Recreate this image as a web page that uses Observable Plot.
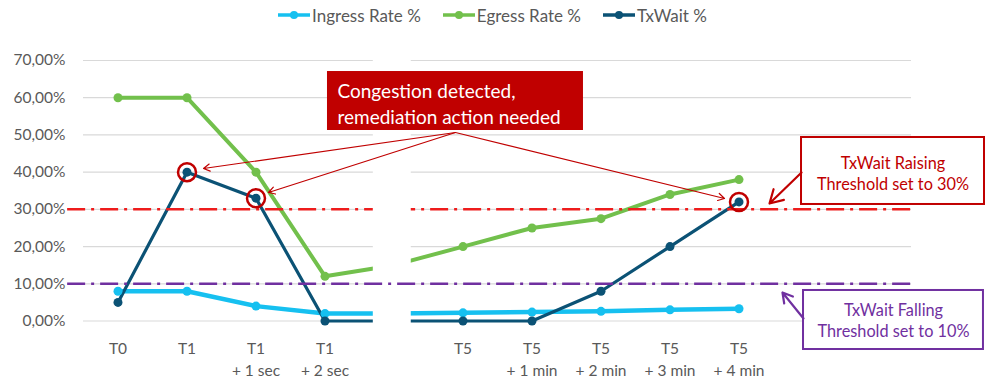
<!DOCTYPE html>
<html>
<head>
<meta charset="utf-8">
<script src="https://cdn.jsdelivr.net/npm/d3@7"></script>
<script src="https://cdn.jsdelivr.net/npm/@observablehq/plot@0.6"></script>
<style>
  body { margin: 0; background: #fff; font-family: Lato, "Open Sans", sans-serif; }
  #legend { height: 30px; display: flex; justify-content: center; align-items: center; gap: 22px; color: #595959; font-size: 17px; }
  .item { display: flex; align-items: center; }
  .item span { margin-left: 2px; }
  #chart svg { display: block; }
</style>
</head>
<body>
<div id="legend"></div>
<div id="chart"></div>
<script>
// ---- data ----
const categories = ["T0", "T1", "T1\n+ 1 sec", "T1\n+ 2 sec", "", "T5", "T5\n+ 1 min", "T5\n+ 2 min", "T5\n+ 3 min", "T5\n+ 4 min", "", ""];
const hiddenIndex = 4;
const ingress = [8, 8, 4, 2, 2, 2.2, 2.4, 2.6, 3.0, 3.3];
const egress = [60, 60, 40, 12, 15, 20, 25, 27.5, 34, 38];
const txwait = [5, 40, 33, 0, 0, 0, 0, 8, 20, 32];
const seriesNames = ["Ingress Rate %", "Egress Rate %", "TxWait %"];
const seriesColors = ["#16c0f0", "#72c04c", "#0b5275"];
const yTicks = [0, 10, 20, 30, 40, 50, 60, 70];
const raisingThreshold = 30;
const fallingThreshold = 10;
const congestedPoints = [[1, 40], [2, 33], [9, 32]];

// ---- build ----
const seriesValues = [ingress, egress, txwait];
const rows = [];
seriesValues.forEach((vals, s) => vals.forEach((v, i) => rows.push({ series: seriesNames[s], i, v })));
const visibleRows = rows.filter(d => d.i !== hiddenIndex);
const xTickIdx = categories.map((c, i) => i).filter(i => categories[i] !== "");
const fmt = d => d.toFixed(2).replace(".", ",") + "%";
const widths = { "Ingress Rate %": 4.5, "Egress Rate %": 4, "TxWait %": 3.2 };

// legend
const legend = d3.select("#legend");
seriesNames.forEach((n, k) => {
  const it = legend.append("div").attr("class", "item");
  const s = it.append("svg").attr("width", 32).attr("height", 12);
  s.append("line").attr("x1", 0).attr("x2", 32).attr("y1", 6).attr("y2", 6)
    .attr("stroke", seriesColors[k]).attr("stroke-width", 3.5);
  s.append("circle").attr("cx", 16).attr("cy", 6).attr("r", 4).attr("fill", seriesColors[k]);
  it.append("span").text(n);
});

const red = "#c00000", thrRed = "#ee1c1c", purple = "#7030a0";
const one = [0];

const plot = Plot.plot({
  width: 985, height: 353,
  marginLeft: 83, marginRight: 74, marginTop: 30, marginBottom: 62.5,
  x: { domain: [-0.5, 11.5], axis: null },
  y: { domain: [0, 70], axis: null },
  color: { domain: seriesNames, range: seriesColors },
  style: { fontFamily: "Lato, 'Open Sans', sans-serif", background: "#fff", overflow: "visible" },
  marks: [
    Plot.ruleY(yTicks, { x1: -0.5, x2: 11.5, stroke: "#d9d9d9", strokeWidth: 1.2 }),
    Plot.text(yTicks, { x: -0.5, y: d => d, text: fmt, textAnchor: "end", dx: -18, fontSize: 15.5, fill: "#595959" }),
    Plot.text(xTickIdx, { x: d => d, y: 0, text: d => categories[d], dy: 17, lineAnchor: "top", lineHeight: 1.42, fontSize: 15.5, fill: "#595959" }),
    ...seriesNames.map(n => Plot.line(rows.filter(d => d.series === n), { x: "i", y: "v", stroke: "series", strokeWidth: widths[n] })),
    Plot.dot(visibleRows, { x: "i", y: "v", fill: "series", r: 4.5 }),
    Plot.ruleY([raisingThreshold], { x1: -0.73, x2: 11.56, stroke: thrRed, strokeWidth: 2.5, strokeDasharray: "18,6,3,6" }),
    Plot.rect(one, { x1: 3.7, x2: 4.25, y1: -1.3, y2: 72, fill: "#fff" }),
    Plot.ruleY([fallingThreshold], { x1: -0.73, x2: 11.56, stroke: purple, strokeWidth: 2.5, strokeDasharray: "18,6,3,6" }),
    Plot.dot(congestedPoints, { x: d => d[0], y: d => d[1], r: 9, stroke: red, strokeWidth: 2.5, fill: "none" }),
    // congestion callout
    Plot.rect(one, { x1: 3.036, x2: 6.746, y1: 51.19, y2: 67.04, fill: red }),
    Plot.text(["Congestion detected,\nremediation action needed"], { x: 3.181, y: 58.58, text: d => d, textAnchor: "start", lineAnchor: "middle", lineHeight: 1.32, fontSize: 19, fill: "#fff" }),
    Plot.arrow([[1.239, 40.98], [2.181, 34.53], [8.79, 32.92]], { x1: 4.891, y1: 50.65, x2: d => d[0], y2: d => d[1], stroke: red, strokeWidth: 1.2, headLength: 9 }),
    // raising threshold callout
    Plot.rect(one, { x1: 9.906, x2: 12.558, y1: 31.31, y2: 49.31, fill: "#fff", stroke: red, strokeWidth: 2 }),
    Plot.text(["TxWait Raising\nThreshold set to 30%"], { x: 11.232, y: 39.85, text: d => d, lineAnchor: "middle", lineHeight: 1.3, fontSize: 16.3, fill: red }),
    Plot.arrow(one, { x1: 9.906, y1: 39.9, x2: 9.442, y2: 31.57, stroke: red, strokeWidth: 2.2, headLength: 11 }),
    // falling threshold callout
    Plot.rect(one, { x1: 9.935, x2: 12.543, y1: -7.66, y2: 8.2, fill: "#fff", stroke: purple, strokeWidth: 2 }),
    Plot.text(["TxWait Falling\nThreshold set to 10%"], { x: 11.239, y: 0.27, text: d => d, lineAnchor: "middle", lineHeight: 1.3, fontSize: 16.3, fill: purple }),
    Plot.arrow(one, { x1: 9.935, y1: 0.67, x2: 9.63, y2: 7.66, stroke: purple, strokeWidth: 2.2, headLength: 11 })
  ]
});
document.getElementById("chart").appendChild(plot);
</script>
</body>
</html>
